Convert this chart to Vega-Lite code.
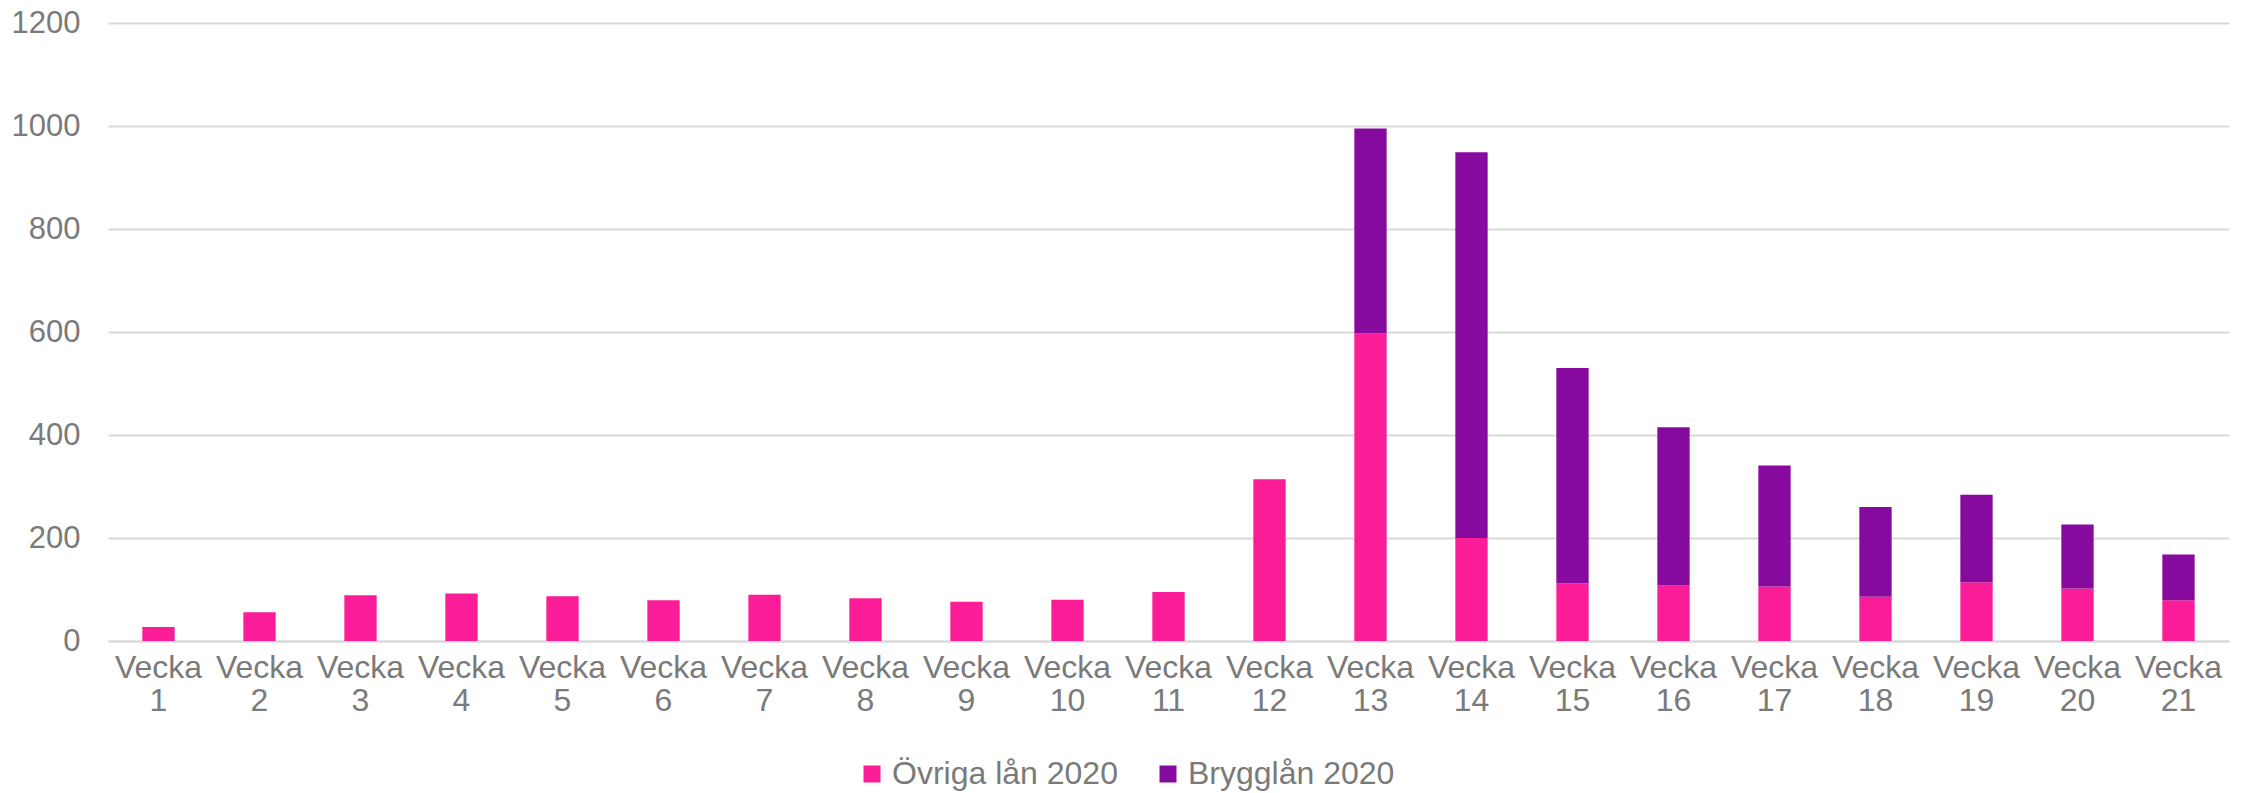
{
  "$schema": "https://vega.github.io/schema/vega-lite/v6.json",
  "autosize": {"type": "none"},
  "width": 2121,
  "height": 618,
  "padding": {"left": 108, "top": 23, "right": 26, "bottom": 152},
  "background": "#ffffff",
  "config": {
    "view": {"stroke": null},
    "font": "Liberation Sans",
    "axis": {"labelFont": "Liberation Sans", "labelColor": "#7A7A7A", "labelFontSize": 32},
    "legend": {"labelFont": "Liberation Sans", "labelColor": "#7A7A7A", "labelFontSize": 32}
  },
  "data": {
    "values": [
      {"vecka": 1, "typ": "Övriga lån 2020", "antal": 27},
      {"vecka": 2, "typ": "Övriga lån 2020", "antal": 56},
      {"vecka": 3, "typ": "Övriga lån 2020", "antal": 89},
      {"vecka": 4, "typ": "Övriga lån 2020", "antal": 92},
      {"vecka": 5, "typ": "Övriga lån 2020", "antal": 87},
      {"vecka": 6, "typ": "Övriga lån 2020", "antal": 79},
      {"vecka": 7, "typ": "Övriga lån 2020", "antal": 90},
      {"vecka": 8, "typ": "Övriga lån 2020", "antal": 83},
      {"vecka": 9, "typ": "Övriga lån 2020", "antal": 76},
      {"vecka": 10, "typ": "Övriga lån 2020", "antal": 80},
      {"vecka": 11, "typ": "Övriga lån 2020", "antal": 95},
      {"vecka": 12, "typ": "Övriga lån 2020", "antal": 314},
      {"vecka": 13, "typ": "Övriga lån 2020", "antal": 597},
      {"vecka": 14, "typ": "Övriga lån 2020", "antal": 200},
      {"vecka": 15, "typ": "Övriga lån 2020", "antal": 112},
      {"vecka": 16, "typ": "Övriga lån 2020", "antal": 108},
      {"vecka": 17, "typ": "Övriga lån 2020", "antal": 106},
      {"vecka": 18, "typ": "Övriga lån 2020", "antal": 86},
      {"vecka": 19, "typ": "Övriga lån 2020", "antal": 114},
      {"vecka": 20, "typ": "Övriga lån 2020", "antal": 102},
      {"vecka": 21, "typ": "Övriga lån 2020", "antal": 79},
      {"vecka": 13, "typ": "Brygglån 2020", "antal": 398},
      {"vecka": 14, "typ": "Brygglån 2020", "antal": 749},
      {"vecka": 15, "typ": "Brygglån 2020", "antal": 418},
      {"vecka": 16, "typ": "Brygglån 2020", "antal": 307},
      {"vecka": 17, "typ": "Brygglån 2020", "antal": 235},
      {"vecka": 18, "typ": "Brygglån 2020", "antal": 174},
      {"vecka": 19, "typ": "Brygglån 2020", "antal": 170},
      {"vecka": 20, "typ": "Brygglån 2020", "antal": 124},
      {"vecka": 21, "typ": "Brygglån 2020", "antal": 89}
    ]
  },
  "transform": [
    {"calculate": "datum.typ === 'Övriga lån 2020' ? 0 : 1", "as": "stackordning"}
  ],
  "mark": {"type": "bar"},
  "encoding": {
    "x": {
      "field": "vecka",
      "type": "ordinal",
      "scale": {"paddingInner": 0.68, "paddingOuter": 0.34},
      "axis": {
        "title": null,
        "labelAngle": 0,
        "labelExpr": "['Vecka', datum.label]",
        "labelLineHeight": 33,
        "labelBaseline": "top",
        "labelPadding": 11,
        "ticks": false,
        "domain": true,
        "domainColor": "#D9D9D9",
        "domainWidth": 2,
        "grid": false
      }
    },
    "y": {
      "field": "antal",
      "type": "quantitative",
      "stack": "zero",
      "scale": {"domain": [0, 1200]},
      "axis": {
        "title": null,
        "format": "d",
        "values": [0, 200, 400, 600, 800, 1000, 1200],
        "ticks": false,
        "domain": false,
        "grid": true,
        "gridColor": "#D9D9D9",
        "gridWidth": 2,
        "labelPadding": 28,
        "labelFontSize": 31
      }
    },
    "color": {
      "field": "typ",
      "type": "nominal",
      "scale": {"domain": ["Övriga lån 2020", "Brygglån 2020"], "range": ["#FB1C98", "#870A9E"]},
      "legend": {
        "title": null,
        "orient": "none",
        "direction": "horizontal",
        "legendX": 748,
        "legendY": 735,
        "symbolType": "square",
        "symbolSize": 289,
        "symbolStrokeWidth": 0,
        "labelOffset": 4,
        "labelLimit": 0,
        "columnPadding": 34
      }
    },
    "order": {"field": "stackordning", "type": "quantitative"}
  }
}
